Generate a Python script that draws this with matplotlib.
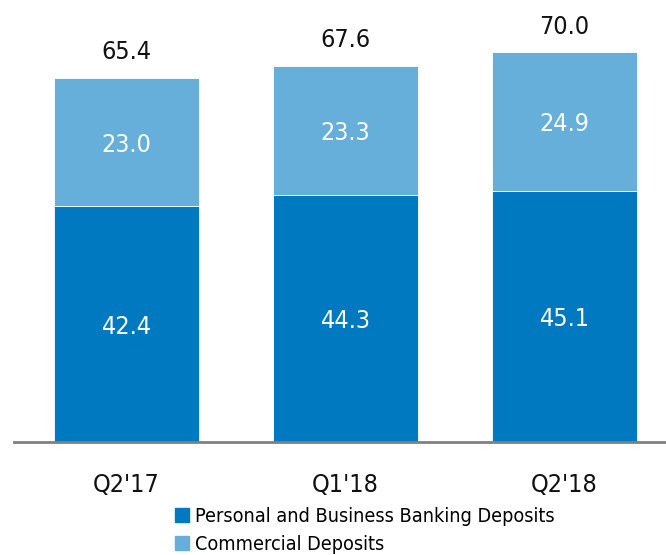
import matplotlib
matplotlib.use("Agg")
import matplotlib.pyplot as plt
from matplotlib.patches import Patch

# deposits by quarter ($B)
quarters = ["Q2'17", "Q1'18", "Q2'18"]
personal = [42.4, 44.3, 45.1]
commercial = [23.0, 23.3, 24.9]
totals = [65.4, 67.6, 70.0]

dark = "#0079c1"
light = "#66afdb"

plt.rcParams["font.family"] = ["DejaVu Sans"]
plt.rcParams["font.stretch"] = "condensed"

fig = plt.figure(figsize=(6.66, 5.55), dpi=100)
ax = fig.add_axes([14 / 666, 113 / 555, 652 / 666, 442 / 555])

x = list(range(len(quarters)))
w = 0.66
ax.bar(x, personal, w, color=dark, edgecolor="white", linewidth=0.6)
ax.bar(x, commercial, w, bottom=personal, color=light, edgecolor="white", linewidth=0.6)

for i in x:
    ax.text(i, personal[i] / 2 - 0.5, f"{personal[i]:.1f}", ha="center", va="center",
            color="white", fontsize=18)
    ax.text(i, personal[i] + commercial[i] / 2 - 0.5, f"{commercial[i]:.1f}", ha="center",
            va="center", color="white", fontsize=18)
    ax.text(i, totals[i] + 4.6, f"{totals[i]:.1f}", ha="center", va="center",
            color="#111111", fontsize=18)

ax.set_xlim(-0.514, 2.463)
ax.set_ylim(0, 79.4)
for s in ["top", "right", "left"]:
    ax.spines[s].set_visible(False)
ax.spines["bottom"].set_color("#808080")
ax.spines["bottom"].set_linewidth(2)
ax.set_yticks([])
ax.set_xticks(x)
ax.set_xticklabels(quarters, fontsize=18, color="#111111")
ax.tick_params(axis="x", length=0, pad=22)

handles = [Patch(color=dark, label="Personal and Business Banking Deposits"),
           Patch(color=light, label="Commercial Deposits")]
fig.legend(handles=handles, loc="upper left", bbox_to_anchor=(175 / 666, 1 - 507 / 555),
           frameon=False, fontsize=14.2, handlelength=0.7, handleheight=0.7,
           handletextpad=0.3, labelspacing=0.45, borderpad=0, borderaxespad=0)

fig.savefig("out.png", dpi=100)
